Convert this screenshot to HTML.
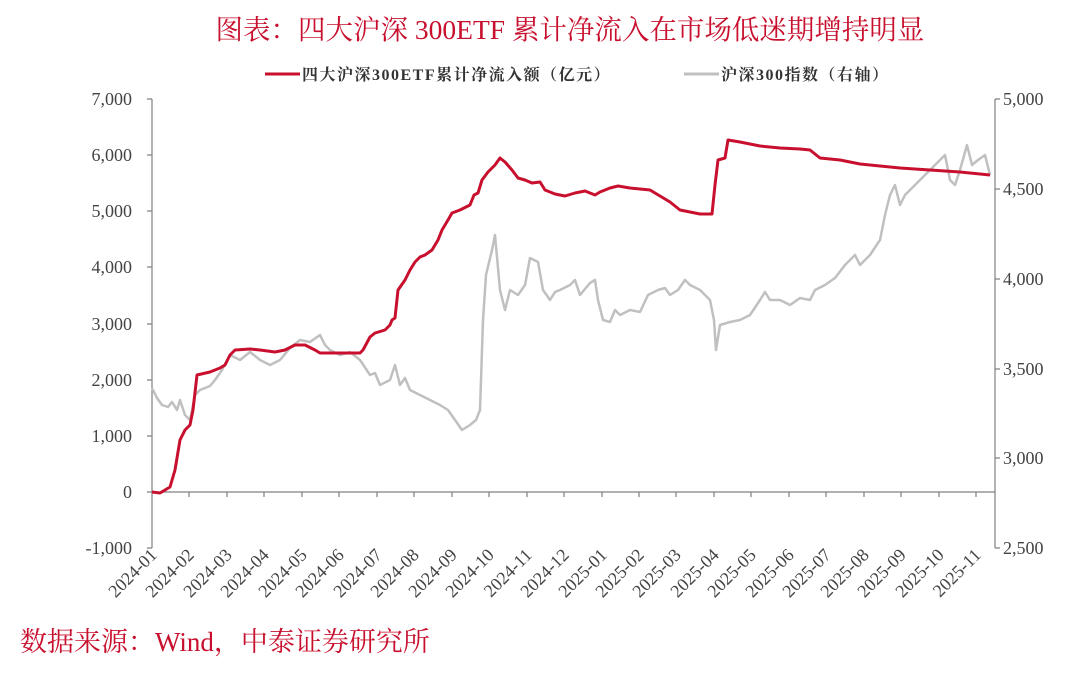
<!DOCTYPE html><html><head><meta charset="utf-8"><style>body{margin:0;background:#fff}</style></head><body>
<svg width="1080" height="674" xmlns="http://www.w3.org/2000/svg" font-family="'Liberation Serif','Noto Serif CJK SC',serif">
<text x="570" y="39" text-anchor="middle" font-size="27.5" fill="#c8102e">图表：四大沪深 300ETF 累计净流入在市场低迷期增持明显</text>
<line x1="265" y1="74" x2="300" y2="74" stroke="#c8102e" stroke-width="3"/>
<text x="302" y="80" font-size="16" font-weight="bold" fill="#333" letter-spacing="1.5">四大沪深300ETF累计净流入额（亿元）</text>
<line x1="684" y1="74" x2="719" y2="74" stroke="#c0c0c0" stroke-width="3"/>
<text x="721" y="80" font-size="16" font-weight="bold" fill="#333" letter-spacing="1.5">沪深300指数（右轴）</text>
<g stroke="#808080" stroke-width="1.2" fill="none">
<line x1="152" y1="99" x2="152" y2="548"/><line x1="995" y1="99" x2="995" y2="548"/>
<line x1="152" y1="492" x2="995" y2="492"/>
<path d="M147 99H152M147 155H152M147 211H152M147 267H152M147 324H152M147 380H152M147 436H152M147 492H152M147 548H152"/>
<path d="M995 99H1000M995 189H1000M995 279H1000M995 369H1000M995 458H1000M995 548H1000"/>
<path d="M189 492v5M227 492v5M264 492v5M302 492v5M339 492v5M377 492v5M414 492v5M452 492v5M489 492v5M527 492v5M564 492v5M602 492v5M639 492v5M676 492v5M714 492v5M751 492v5M789 492v5M826 492v5M864 492v5M901 492v5M939 492v5M976 492v5"/>
</g>
<g font-size="18" fill="#444" text-anchor="end">
<text x="132" y="105">7,000</text><text x="132" y="161">6,000</text><text x="132" y="217">5,000</text><text x="132" y="273">4,000</text><text x="132" y="330">3,000</text><text x="132" y="386">2,000</text><text x="132" y="442">1,000</text><text x="132" y="498">0</text><text x="132" y="554">-1,000</text>
</g>
<g font-size="18" fill="#444">
<text x="1003" y="105">5,000</text><text x="1003" y="195">4,500</text><text x="1003" y="285">4,000</text><text x="1003" y="375">3,500</text><text x="1003" y="464">3,000</text><text x="1003" y="554">2,500</text>
</g>
<g font-size="18" fill="#444" text-anchor="end">
<text transform="translate(158,556) rotate(-45)">2024-01</text><text transform="translate(195,556) rotate(-45)">2024-02</text><text transform="translate(233,556) rotate(-45)">2024-03</text><text transform="translate(270,556) rotate(-45)">2024-04</text><text transform="translate(308,556) rotate(-45)">2024-05</text><text transform="translate(345,556) rotate(-45)">2024-06</text><text transform="translate(383,556) rotate(-45)">2024-07</text><text transform="translate(420,556) rotate(-45)">2024-08</text><text transform="translate(458,556) rotate(-45)">2024-09</text><text transform="translate(495,556) rotate(-45)">2024-10</text><text transform="translate(533,556) rotate(-45)">2024-11</text><text transform="translate(570,556) rotate(-45)">2024-12</text><text transform="translate(608,556) rotate(-45)">2025-01</text><text transform="translate(645,556) rotate(-45)">2025-02</text><text transform="translate(682,556) rotate(-45)">2025-03</text><text transform="translate(720,556) rotate(-45)">2025-04</text><text transform="translate(757,556) rotate(-45)">2025-05</text><text transform="translate(795,556) rotate(-45)">2025-06</text><text transform="translate(832,556) rotate(-45)">2025-07</text><text transform="translate(870,556) rotate(-45)">2025-08</text><text transform="translate(907,556) rotate(-45)">2025-09</text><text transform="translate(945,556) rotate(-45)">2025-10</text><text transform="translate(982,556) rotate(-45)">2025-11</text>
</g>
<polyline fill="none" stroke="#c0c0c0" stroke-width="2.5" stroke-linejoin="round" points="152,388 157,398 162,405 168,407 172,402 177,410 180,400 185,415 190,420 195,395 200,390 210,386 215,380 222,370 230,355 240,360 250,352 260,360 270,365 280,360 290,348 300,340 310,342 320,335 325,345 330,350 340,355 350,352 360,360 370,375 375,373 380,385 390,380 395,365 400,385 405,378 410,390 420,395 430,400 440,405 448,410 455,420 462,430 470,425 476,420 480,410 483,320 486,275 492,250 495,235 500,290 505,310 510,290 518,295 525,285 530,258 538,262 543,290 550,300 555,292 560,290 570,285 575,280 580,295 590,283 595,280 598,300 603,320 610,322 615,310 620,315 630,310 640,312 648,295 658,290 665,288 670,295 678,290 685,280 690,285 700,290 710,300 714,320 716,350 720,325 730,322 740,320 750,315 760,300 765,292 770,300 780,300 790,305 800,298 810,300 815,290 825,285 835,278 845,265 855,255 860,265 870,255 880,240 885,215 890,195 895,185 900,205 905,195 910,190 920,180 930,170 940,160 945,155 950,180 955,185 960,170 967,145 972,165 978,160 985,155 990,175"/>
<polyline fill="none" stroke="#c8102e" stroke-width="3" stroke-linejoin="round" points="152,492 160,493 165,490 170,487 175,470 180,440 185,430 190,425 193,410 197,375 210,372 220,368 225,365 230,355 235,350 250,349 260,350 275,352 285,350 295,345 305,345 315,350 320,353 340,353 360,353 363,350 370,337 375,333 385,330 390,325 392,320 395,318 398,290 405,280 410,270 415,262 420,257 425,255 432,250 438,240 442,230 448,220 452,213 460,210 470,205 474,195 478,193 482,180 488,172 495,165 500,158 505,162 512,170 518,178 525,180 532,183 540,182 545,190 555,194 565,196 575,193 585,191 595,195 600,192 610,188 618,186 630,188 640,189 650,190 660,196 670,202 680,210 690,212 700,214 712,214 715,185 718,160 725,158 728,140 740,142 760,146 780,148 800,149 810,150 820,158 840,160 860,164 880,166 900,168 930,170 960,172 980,174 990,175"/>
<text x="20" y="651" font-size="27" fill="#c8102e">数据来源：Wind，中泰证券研究所</text>
</svg></body></html>
